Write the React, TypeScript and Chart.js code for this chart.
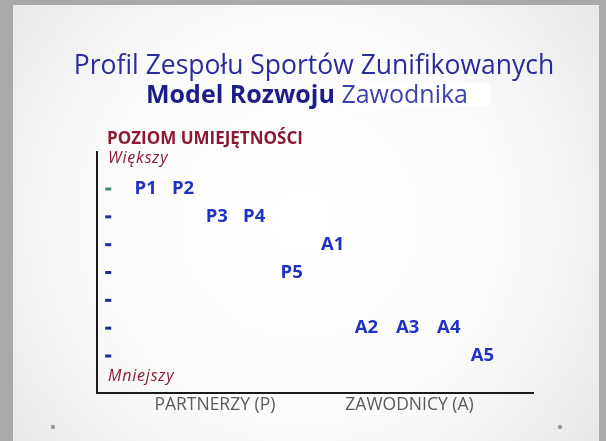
import React, { useEffect, useRef } from "react";
import { Chart, registerables } from "chart.js";

Chart.register(...registerables);

// ---- data ----
const players = ["P1", "P2", "P3", "P4", "P5", "A1", "A2", "A3", "A4", "A5"];
const playerPosition = [1, 2, 2.9, 3.9, 4.9, 6, 6.9, 8, 9.1, 10];
const skillLevel = [7, 7, 6, 6, 4, 5, 2, 2, 2, 1];
const levelTicks = [7, 6, 5, 4, 3, 2, 1];
const titleLine1 = "Profil Zespołu Sportów Zunifikowanych";
const titleLine2Bold = "Model Rozwoju";
const titleLine2Regular = "Zawodnika";
const yAxisTitle = "POZIOM UMIEJĘTNOŚCI";
const yHigh = "Większy";
const yLow = "Mniejszy";
const groupLabels = ["PARTNERZY (P)", "ZAWODNICY (A)"];
const groupLabelPosition = [2.85, 8.05];

const FONT = '"Open Sans", "Noto Sans", sans-serif';

const slidePlugin = {
  id: "slide",
  beforeDraw(chart: any) {
    const { ctx, width, height } = chart;
    ctx.save();
    ctx.fillStyle = "#a9a9a9";
    ctx.fillRect(0, 0, width, height);
    const g = ctx.createRadialGradient(300, 220, 30, 300, 220, 420);
    g.addColorStop(0, "#ffffff");
    g.addColorStop(0.45, "#fbfbfb");
    g.addColorStop(1, "#e2e2e2");
    ctx.fillStyle = g;
    ctx.fillRect(13, 5, 586, height - 5);
    // white box behind "Zawodnika"
    ctx.fillStyle = "#ffffff";
    ctx.fillRect(345, 83, 145, 23);
    // bullets
    ctx.fillStyle = "#9a9a9a";
    ctx.beginPath();
    ctx.arc(53, 427, 2.2, 0, Math.PI * 2);
    ctx.fill();
    ctx.beginPath();
    ctx.arc(560, 427, 2.2, 0, Math.PI * 2);
    ctx.fill();
    ctx.restore();
  },
  afterDraw(chart: any) {
    const { ctx } = chart;
    const xs = chart.scales.x;
    const ys = chart.scales.y;
    ctx.save();
    ctx.textBaseline = "alphabetic";
    // title
    ctx.textAlign = "center";
    ctx.fillStyle = "#2a2c9a";
    ctx.font = `26.5px ${FONT}`;
    ctx.fillText(titleLine1, 314, 74);
    ctx.font = `bold 25px ${FONT}`;
    const w1 = ctx.measureText(titleLine2Bold + " ").width;
    ctx.font = `25px ${FONT}`;
    const w2 = ctx.measureText(titleLine2Regular).width;
    const start = 307 - (w1 + w2) / 2;
    ctx.textAlign = "left";
    ctx.font = `bold 25px ${FONT}`;
    ctx.fillStyle = "#1c1e88";
    ctx.fillText(titleLine2Bold, start, 103);
    ctx.font = `25px ${FONT}`;
    ctx.fillStyle = "#3a44b0";
    ctx.fillText(titleLine2Regular, start + w1, 103);

    // y axis texts
    ctx.textAlign = "left";
    ctx.fillStyle = "#8a1a33";
    ctx.font = `bold 17px ${FONT}`;
    ctx.fillText(yAxisTitle, 107, 144);
    ctx.font = `italic 16px ${FONT}`;
    (ctx as any).letterSpacing = "0.8px";
    ctx.fillText(yHigh, 108, 163);
    ctx.fillText(yLow, 108, 381);
    (ctx as any).letterSpacing = "0px";

    // group labels under the axis
    ctx.textAlign = "center";
    ctx.fillStyle = "#5a5a5a";
    ctx.font = `17.5px ${FONT}`;
    groupLabels.forEach((t, i) => {
      ctx.fillText(t, xs.getPixelForValue(groupLabelPosition[i]), ys.bottom + 17);
    });
    ctx.restore();
  },
};

const labelPlugin = {
  id: "pointLabels",
  afterDatasetsDraw(chart: any) {
    const { ctx } = chart;
    const meta = chart.getDatasetMeta(1);
    ctx.save();
    ctx.font = `bold 18.5px ${FONT}`;
    ctx.fillStyle = "#1f32c4";
    ctx.textAlign = "center";
    ctx.textBaseline = "middle";
    meta.data.forEach((pt: any, i: number) => {
      ctx.fillText(players[i], pt.x, pt.y);
    });
    ctx.restore();
  },
};

export default function App() {
  const ref = useRef<HTMLCanvasElement | null>(null);
  useEffect(() => {
    document.body.style.margin = "0";
    const canvas = ref.current!;
    const chart = new Chart(canvas, {
      type: "scatter",
      data: {
        datasets: [
          {
            label: "levels",
            data: levelTicks.map((v) => ({ x: 0, y: v })),
            pointStyle: "line",
            pointRadius: 3,
            borderWidth: 3,
            borderColor: levelTicks.map((v, i) => (i === 0 ? "#3f8f6a" : "#1c2a9a")),
            backgroundColor: "transparent",
          },
          {
            label: "players",
            data: players.map((_, i) => ({ x: playerPosition[i], y: skillLevel[i] })),
            pointRadius: 0,
            pointHoverRadius: 0,
          },
        ],
      },
      options: {
        responsive: false,
        animation: false,
        events: [],
        layout: { padding: { left: 97, right: 73, top: 152, bottom: 48 } },
        plugins: { legend: { display: false }, tooltip: { enabled: false }, title: { display: false } },
        scales: {
          x: {
            type: "linear",
            min: -0.3,
            max: 11.35,
            grid: { display: false, drawTicks: false },
            ticks: { display: false },
            border: { display: true, color: "#1a1a1a", width: 2 },
          },
          y: {
            type: "linear",
            min: -0.33,
            max: 8.33,
            grid: { display: false, drawTicks: false },
            ticks: { display: false },
            border: { display: true, color: "#1a1a1a", width: 2 },
          },
        },
      },
      plugins: [slidePlugin, labelPlugin],
    });
    return () => chart.destroy();
  }, []);
  return (
    <div style={{ width: 606, height: 441 }}>
      <canvas ref={ref} width={606} height={441} style={{ display: "block" }} />
    </div>
  );
}
